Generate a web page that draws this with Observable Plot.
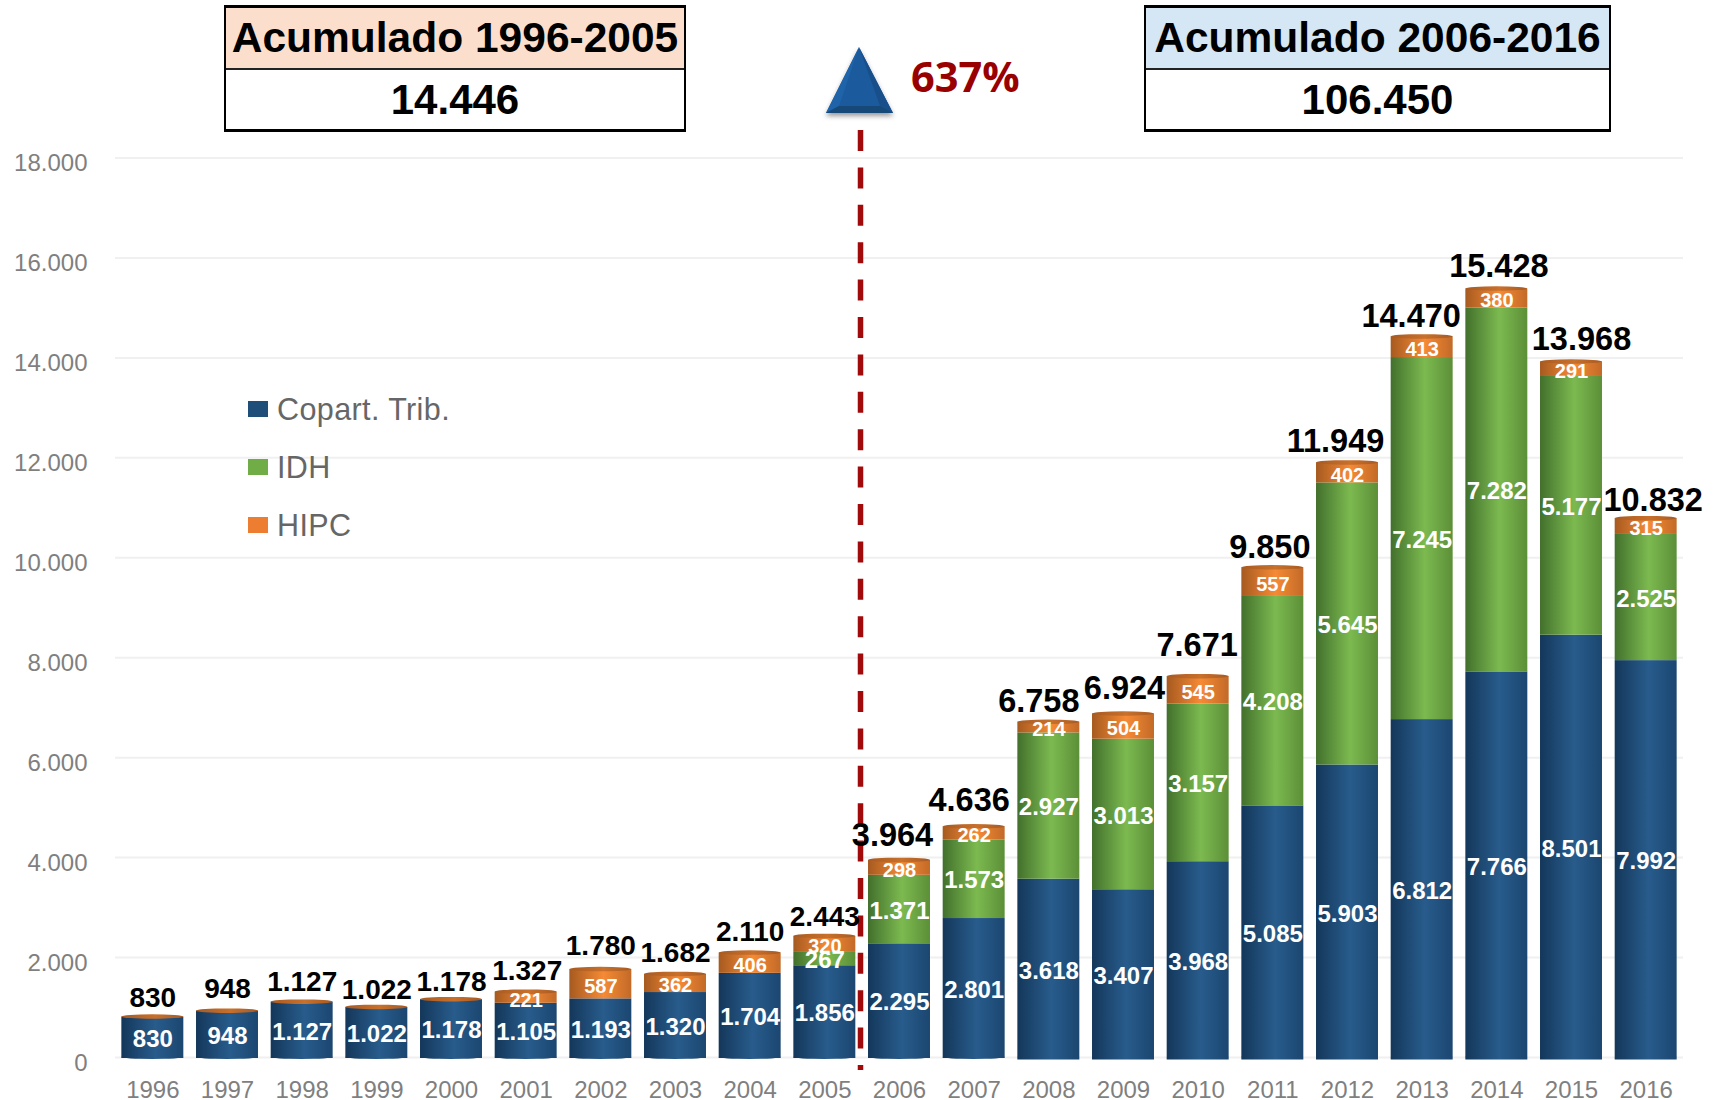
<!DOCTYPE html>
<html lang="es">
<head>
<meta charset="utf-8">
<title>Acumulado</title>
<script src="https://cdn.jsdelivr.net/npm/d3@7"></script>
<script src="https://cdn.jsdelivr.net/npm/@observablehq/plot@0.6"></script>
<style>
  html, body { margin: 0; padding: 0; background: #fff; }
  body { width: 1715px; height: 1100px; position: relative; overflow: hidden;
         font-family: "Liberation Sans", Arial, sans-serif; }
  #chart { position: absolute; left: 0; top: 0; }
  .box { position: absolute; box-sizing: border-box; border: 3px solid #000; border-left-width: 2.5px; border-right-width: 2.5px; background: #fff; }
  .box .head { height: 60px; border-bottom: 2px solid #222; font-weight: 700; font-size: 42.5px; line-height: 60px; text-align: center; color: #000; white-space: nowrap; }
  .box .val { font-weight: 700; font-size: 42px; line-height: 60px; text-align: center; color: #000; }
  .legend { position: absolute; left: 248px; height: 16px; width: 20px; }
  .legtxt { position: absolute; left: 277px; font-size: 30.5px; line-height: 34px; color: #666; letter-spacing: .4px; white-space: nowrap; }
  #pct { position: absolute; left: 911px; top: 46px; font: 700 41.5px/60px "Open Sans", sans-serif; color: #990000; }
  #tri { position: absolute; left: 815px; top: 40px; }
</style>
</head>
<body>
<div id="chart"></div>

<div class="box" style="left:224px;top:5px;width:462px;height:127px">
  <div class="head" style="background:#fbdfcc">Acumulado 1996-2005</div>
  <div class="val">14.446</div>
</div>
<div class="box" style="left:1144px;top:5px;width:467px;height:127px">
  <div class="head" style="background:#d5e6f5">Acumulado 2006-2016</div>
  <div class="val">106.450</div>
</div>

<svg id="tri" width="90" height="90" viewBox="0 0 90 90">
  <defs><filter id="triShadow" x="-20%" y="-20%" width="140%" height="140%"><feDropShadow dx="0" dy="3" stdDeviation="2.5" flood-color="#000" flood-opacity=".4"/></filter></defs>
  <polygon points="44,7 78,73 11,73" fill="#1a5a9e" filter="url(#triShadow)"/>
  <polygon points="44,7 11,73 24,66" fill="#1f63a8"/>
  <polygon points="44,7 78,73 65,66" fill="#184f8a"/>
  <polygon points="11,73 78,73 65,66 24,66" fill="#164878"/>
</svg>
<div id="pct">637%</div>

<div class="legend" style="top:401px;background:#1f4e79"></div>
<div class="legtxt" style="top:392px">Copart. Trib.</div>
<div class="legend" style="top:459px;background:#70ad47"></div>
<div class="legtxt" style="top:450px">IDH</div>
<div class="legend" style="top:517px;background:#ed7d31"></div>
<div class="legtxt" style="top:508px">HIPC</div>

<script>
const years = ["1996","1997","1998","1999","2000","2001","2002","2003","2004","2005","2006","2007","2008","2009","2010","2011","2012","2013","2014","2015","2016"];
const copart = [830,948,1127,1022,1178,1105,1193,1320,1704,1856,2295,2801,3618,3407,3968,5085,5903,6812,7766,8501,7992];
const idh    = [null,null,null,null,null,null,null,null,null,267,1371,1573,2927,3013,3157,4208,5645,7245,7282,5177,2525];
const hipc   = [null,null,null,null,null,221,587,362,406,320,298,262,214,504,545,557,402,413,380,291,315];
const totals = [830,948,1127,1022,1178,1327,1780,1682,2110,2443,3964,4636,6758,6924,7671,9850,11949,14470,15428,13968,10832];
const seriesNames = ["Copart. Trib.","IDH","HIPC"];
const yTicks = [0,2000,4000,6000,8000,10000,12000,14000,16000,18000];

// layout nudges for the total labels (the reference places them by hand)
const totalDx  = [0,0,0,0,0,1,0,0,0,0,-7,-5,-10,1,-1,-3,-12,-11,2,10,7];
const totalGap = [9,12.5,10,7,8,11,14,11,11,9,13,15,8,12,18,7,8,7,10,9.5,5];

const fmt = d => d3.format(",")(d).replace(/,/g, ".");
const long = [copart, idh, hipc].flatMap((vals, s) =>
  vals.map((v, i) => ({year: years[i], series: seriesNames[s], value: v})).filter(d => d.value != null));
const totalRows = years.map((year, i) => ({year, total: totals[i], dx: totalDx[i], gap: totalGap[i]}));

// the reference's taller columns sit a touch below the gridlines
const groups = [
  {test: d => +d.year <= 2007, dy: 1},
  {test: d => +d.year > 2007, dy: 2.5}
];

const defs = () => {
  const g = document.createElementNS("http://www.w3.org/2000/svg", "g");
  const grad = (id, a, b, c) => `<linearGradient id="${id}" x1="0" x2="1" y1="0" y2="0">
    <stop offset="0" stop-color="${a}"/><stop offset=".55" stop-color="${b}"/><stop offset="1" stop-color="${c}"/></linearGradient>`;
  g.innerHTML = `<defs>
    ${grad("gBlue", "#14375a", "#285c8c", "#1b4670")}
    ${grad("gGreen", "#42702c", "#7cba50", "#5c8f38")}
    ${grad("gOrange", "#a65a20", "#f68a35", "#c26a28")}
    ${grad("gCap", "#a85a22", "#c8702c", "#a85a22")}
  </defs>`;
  return g;
};

const chart = Plot.plot({
  width: 1715,
  height: 1100,
  marginLeft: 115,
  marginRight: 32,
  marginTop: 157.5,
  marginBottom: 43,
  style: {background: "transparent", fontFamily: "'Liberation Sans', Arial, sans-serif", overflow: "visible"},
  x: {domain: years, paddingInner: 0.17, paddingOuter: 0.085, align: 0.5, round: false, label: null},
  y: {domain: [0, 18000], label: null},
  color: {domain: seriesNames, range: ["url(#gBlue)", "url(#gGreen)", "url(#gOrange)"]},
  marks: [
    defs,
    Plot.gridY(yTicks, {stroke: "#f0f0f0", strokeOpacity: 1, strokeWidth: 2}),
    Plot.axisY({ticks: yTicks, tickSize: 0, tickPadding: 28, tickFormat: fmt, fontSize: 24, color: "#7f7f7f", label: null, dy: 5.5}),
    Plot.axisX({tickSize: 0, tickPadding: 23, fontSize: 24, color: "#7f7f7f", label: null}),
    Plot.barY(totalRows, {x: "year", y1: -40, y2: 40, fill: "url(#gBlue)", rx: 31, ry: 3}),
    ...groups.map(g => Plot.barY(long.filter(g.test), {x: "year", y: "value", z: "series", fill: "series", order: seriesNames, dy: g.dy})),
    ...groups.map(g => Plot.barY(totalRows.filter(g.test), {x: "year", y1: d => d.total - 45, y2: d => d.total + 45, fill: "url(#gCap)", rx: 31, ry: 2.5, dy: g.dy})),
    Plot.ruleX(["2006"], {y1: 18550, y2: -260, dx: -39, stroke: "#a00a0a", strokeWidth: 5.5, strokeDasharray: "21,16.4"}),
    ...groups.map(g => Plot.text(long.filter(g.test), Plot.stackY({
      x: "year", y: "value", z: "series", order: seriesNames,
      text: d => d.series === "HIPC" ? "" : fmt(d.value),
      fill: "#fff", fontWeight: 700, fontSize: 24, dy: 1.5 + g.dy
    }))),
    ...groups.map(g => Plot.text(long.filter(g.test), Plot.stackY({
      x: "year", y: "value", z: "series", order: seriesNames,
      text: d => d.series === "HIPC" ? fmt(d.value) : "",
      fill: "#fff", fontWeight: 700, fontSize: 20, dy: 2.5 + g.dy
    }))),
    ...totalRows.map(r => Plot.text([r], {
      x: "year", y: "total", text: d => fmt(d.total), lineAnchor: "bottom",
      dx: r.dx, dy: -r.gap, fill: "#000", fontWeight: 700, fontSize: +r.year > 2005 ? 32.5 : 28
    }))
  ]
});
document.getElementById("chart").append(chart);
</script>
</body>
</html>
